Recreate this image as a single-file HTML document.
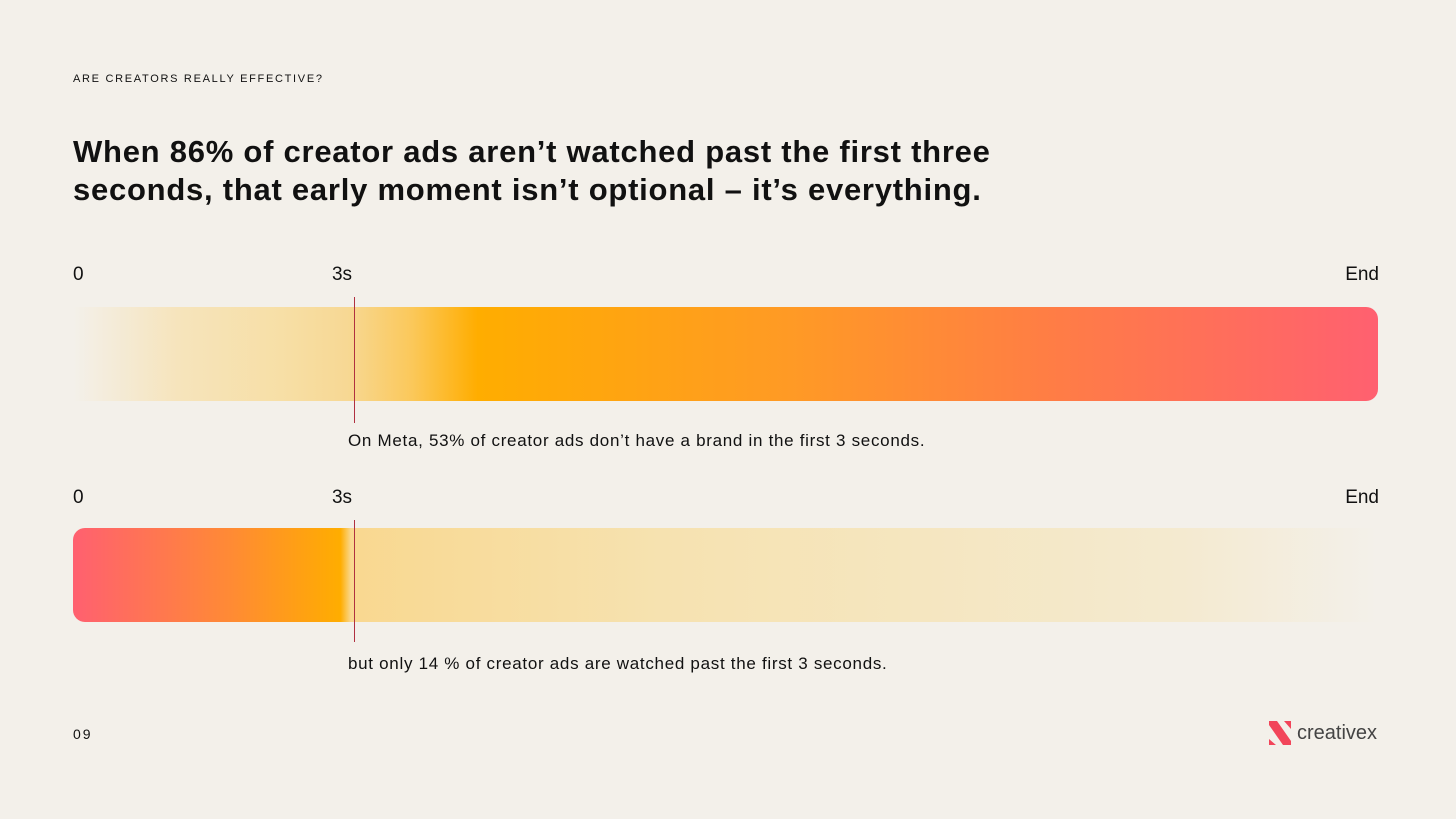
<!DOCTYPE html>
<html><head><meta charset="utf-8">
<style>
body{margin:0;width:1456px;height:819px;background:#f3f0ea;font-family:"Liberation Sans",sans-serif;color:#111;position:relative;overflow:hidden}
.abs{position:absolute}
.kick{left:73px;top:73px;font-size:11px;letter-spacing:1.7px}
.title{left:73px;top:133px;font-size:31px;font-weight:bold;line-height:38px;letter-spacing:0.75px}
.tick{font-size:19px}
.cap{font-size:17px;letter-spacing:0.7px}
.bar{height:94px}
.mk{width:1px;background:#b03040}
</style></head><body>
<div class="abs kick">ARE CREATORS REALLY EFFECTIVE?</div>
<div class="abs title">When 86% of creator ads aren’t watched past the first three<br>seconds, that early moment isn’t optional – it’s everything.</div>
<div id="chart"></div>
<div class="abs" style="left:73px;top:726px;font-size:14px;letter-spacing:2px">09</div>
<div class="abs" style="left:1267px;top:719px;display:flex;align-items:center">
<svg width="26" height="28" viewBox="0 0 26 28"><path d="M2 2h8l14 20v4h-8L2 6z M17 2h7v8z M2 20l7 6H2z" fill="#f2455a"/></svg>
<span style="font-size:20px;color:#444;margin-left:4px">creativex</span></div>
<script>
const rows=["top","bottom"];
const markerLabels=["0","3s","End"];
const markerFraction=[0,0.2153,1];
const captions=["On Meta, 53% of creator ads don’t have a brand in the first 3 seconds.","but only 14 % of creator ads are watched past the first 3 seconds."];
const rowTop=[264,487];
const X0=73,W=1305;
const xs=f=>X0+f*W;
const ch=document.getElementById('chart');
const grads=[
"linear-gradient(90deg,rgba(246,222,170,0) 0%,#f6e4bc 8%,#f7dfa6 16%,#f7d894 21%,#fbc85a 26%,#ffad00 31%,#ff9a25 55%,#ff7d45 75%,#ff6070 100%)",
"linear-gradient(90deg,#ff6070 0%,#ff8a35 12%,#ffad00 20.5%,#f9d890 21.3%,#f6e2b0 45%,#f4ead0 85%,rgba(243,240,234,0) 100%)"];
const barOffset=[43,41];
rows.forEach((r,i)=>{
 const t=rowTop[i];
 markerLabels.forEach((l,j)=>{
  const d=document.createElement('div');d.className='abs tick';d.textContent=l;
  
  
  const x=xs(markerFraction[j]);
  if(j==2){d.style.right=(1456-x-1)+'px'}else if(j==1){d.style.left=(x-22)+'px'}else d.style.left=x+'px';
  d.style.top=t+'px';ch.appendChild(d);
 });
 const b=document.createElement('div');b.className='abs bar';
 
 
 b.style.left=X0+'px';b.style.width=W+'px';b.style.top=(t+barOffset[i])+'px';
 b.style.background=grads[i];b.style.borderRadius=i==0?'0 12px 12px 0':'12px 0 0 12px';
 ch.appendChild(b);
 const m=document.createElement('div');m.className='abs mk';
 
 
 m.style.left=xs(markerFraction[1])+'px';m.style.top=(t+33)+'px';m.style.height=(i==0?126:122)+'px';
 ch.appendChild(m);
 const c=document.createElement('div');c.className='abs cap';c.textContent=captions[i];
 
 
 c.style.left='348px';c.style.top=(t+167)+'px';ch.appendChild(c);
});
</script>
</body></html>
